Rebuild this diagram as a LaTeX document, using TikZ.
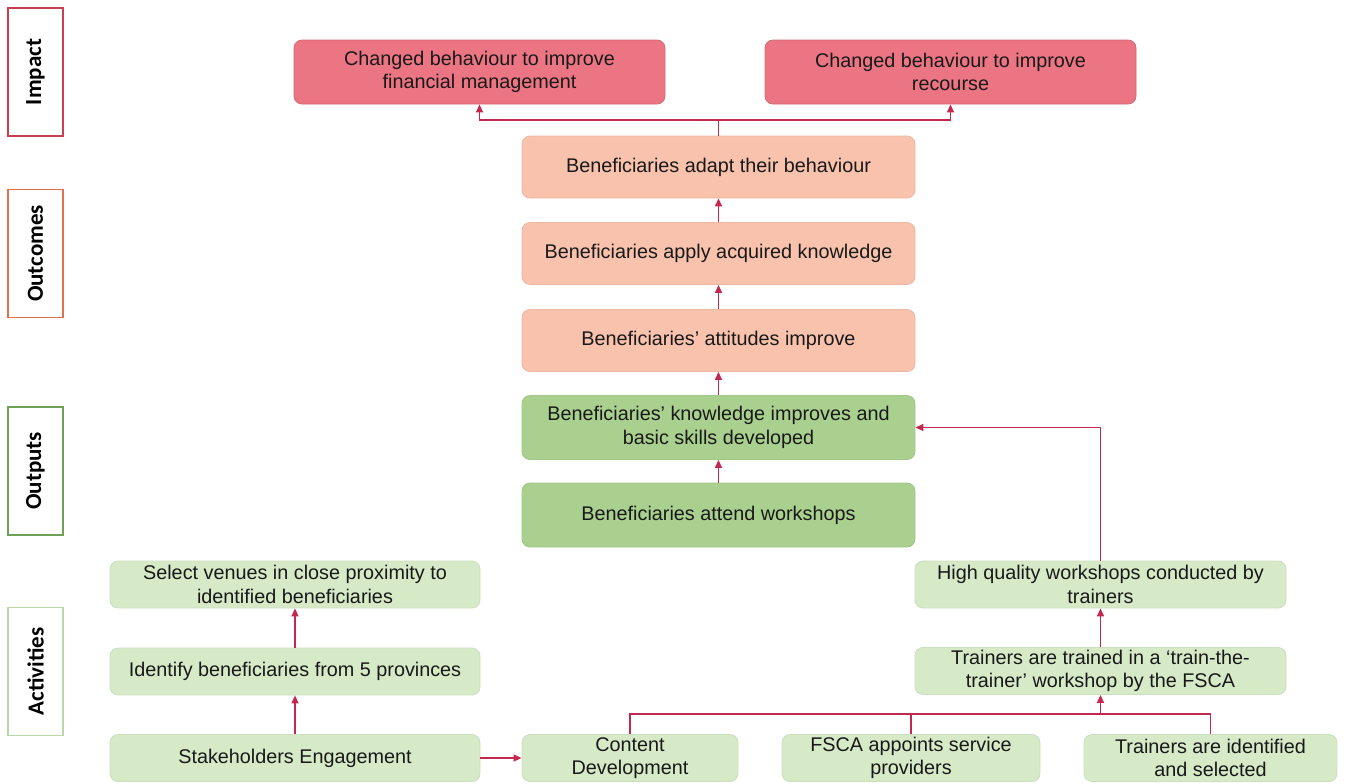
\documentclass[tikz,border=0pt]{standalone}
\usepackage{fontspec}
\setmainfont{Liberation Sans}
\newfontfamily\lblfont{Carlito}
\usetikzlibrary{arrows.meta}
\definecolor{impfill}{RGB}{236,117,131}
\definecolor{outfill}{RGB}{248,194,172}
\definecolor{opfill}{RGB}{169,208,142}
\definecolor{actfill}{RGB}{214,234,200}
\definecolor{conn}{RGB}{196,40,78}
\definecolor{impline}{RGB}{200,64,80}
\definecolor{outcline}{RGB}{226,112,80}
\definecolor{outpline}{RGB}{110,160,85}
\definecolor{actline}{RGB}{185,216,165}
\tikzset{
  box/.style={rounded corners=4pt, align=center, inner sep=1pt, font=\fontsize{9.9}{11.8}\selectfont, text=black!90},
  impbox/.style={box, fill=impfill, draw=impfill!90!black, minimum width=185.5pt, minimum height=32pt},
  outbox/.style={box, fill=outfill, draw=outfill!95!black, minimum width=196.5pt, minimum height=31pt},
  opbox/.style={box, fill=opfill, draw=opfill!95!black, minimum width=196.5pt, minimum height=32pt},
  actbox/.style={box, fill=actfill, draw=actfill!95!black, minimum height=23.5pt},
  lvl/.style={draw, line width=0.6pt, fill=white, rotate=90, minimum width=64pt, minimum height=27.5pt, font=\lblfont\bfseries\fontsize{11.5}{13}\selectfont},
  conn/.style={draw=conn, line width=0.65pt},
  arr/.style={conn, -{Triangle[length=4pt,width=3.5pt]}}
}
\begin{document}
\begin{tikzpicture}[x=0.5pt,y=-0.5pt]
\useasboundingbox (0,0) rectangle (1346,783);
% level labels
\node[lvl, draw=impline] (Limp) at (35.5,72) {Impact};
\node[lvl, draw=outcline] (Lout) at (35.5,253.5) {Outcomes};
\node[lvl, draw=outpline] (Lop) at (35.5,471) {Outputs};
\node[lvl, draw=actline] (Lact) at (35.5,671.5) {Activities};
% impact
\node[impbox] (imp1) at (479.5,72) {Changed behaviour to improve\\financial management};
\node[impbox] (imp2) at (950.5,72) {Changed behaviour to improve\\recourse};
% outcomes
\node[outbox] (out1) at (718.5,167) {Beneficiaries adapt their behaviour};
\node[outbox] (out2) at (718.5,253.5) {Beneficiaries apply acquired knowledge};
\node[outbox] (out3) at (718.5,340.5) {Beneficiaries’ attitudes improve};
% outputs
\node[opbox] (op1) at (718.5,427.5) {Beneficiaries’ knowledge improves and\\basic skills developed};
\node[opbox] (op2) at (718.5,515) {Beneficiaries attend workshops};
% activities
\node[actbox, minimum width=185pt] (a1) at (295,584.5) {Select venues in close proximity to\\identified beneficiaries};
\node[actbox, minimum width=185pt] (a2) at (295,671.5) {Identify beneficiaries from 5 provinces};
\node[actbox, minimum width=185pt] (a3) at (295,758) {Stakeholders Engagement};
\node[actbox, minimum width=108pt] (a4) at (630,758) {Content\\Development};
\node[actbox, minimum width=129pt] (a5) at (911,758) {FSCA appoints service\\providers};
\node[actbox, minimum width=126.5pt] (a6) at (1210.5,758) {Trainers are identified\\and selected};
\node[actbox, minimum width=185.5pt] (a7) at (1100.5,671) {Trainers are trained in a ‘train-the-\\trainer’ workshop by the FSCA};
\node[actbox, minimum width=185.5pt] (a8) at (1100.5,584.5) {High quality workshops conducted by\\trainers};
% connectors
\coordinate (jt) at (718.5,120);
\draw[conn] (out1.north) -- (jt);
\draw[arr] (jt) -| (imp1.south);
\draw[arr] (jt) -| (imp2.south);
\draw[arr] (out2) -- (out1);
\draw[arr] (out3) -- (out2);
\draw[arr] (op1) -- (out3);
\draw[arr] (op2) -- (op1);
\draw[arr] (a8.north) |- (op1.east);
\draw[arr] (a7) -- (a8);
\coordinate (jb) at (1100.5,714);
\draw[conn] (a4.north) |- (jb);
\draw[conn] (a5.north) -- (a5.north |- jb);
\draw[conn] (a6.north) |- (jb);
\draw[arr] (jb) -- (a7.south);
\draw[arr] (a3) -- (a4);
\draw[arr] (a3) -- (a2);
\draw[arr] (a2) -- (a1);
\end{tikzpicture}
\end{document}
